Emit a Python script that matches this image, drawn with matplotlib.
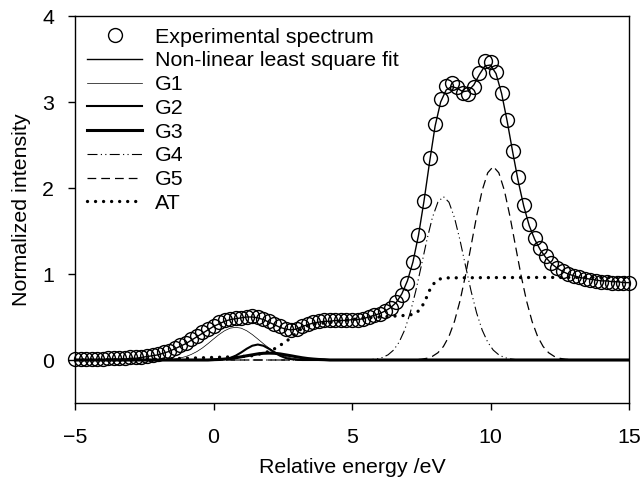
import matplotlib
matplotlib.use("Agg")
import matplotlib.pyplot as plt
import numpy as np

plt.rcParams['font.family'] = ['Liberation Sans', 'DejaVu Sans']

# Experimental spectrum (x grid -5..15 step 0.2)
exp_x = [round(-5 + 0.2 * i, 1) for i in range(101)]
exp_y = [0.01, 0.01, 0.01, 0.01, 0.01, 0.01, 0.02, 0.02, 0.02, 0.02,
         0.03, 0.03, 0.04, 0.05, 0.06, 0.07, 0.09, 0.11, 0.14, 0.17,
         0.20, 0.24, 0.28, 0.32, 0.36, 0.40, 0.44, 0.47, 0.48, 0.49,
         0.49, 0.50, 0.51, 0.50, 0.48, 0.45, 0.42, 0.39, 0.36, 0.35,
         0.36, 0.39, 0.42, 0.44, 0.45, 0.46, 0.46, 0.46, 0.46, 0.46,
         0.47, 0.47, 0.48, 0.50, 0.52, 0.54, 0.57, 0.61, 0.67, 0.76,
         0.90, 1.14, 1.45, 1.85, 2.35, 2.74, 3.03, 3.19, 3.22, 3.18,
         3.11, 3.09, 3.17, 3.34, 3.48, 3.47, 3.35, 3.10, 2.79, 2.43,
         2.13, 1.80, 1.58, 1.42, 1.30, 1.21, 1.13, 1.07, 1.03, 1.00,
         0.98, 0.96, 0.94, 0.93, 0.92, 0.91, 0.91, 0.90, 0.90, 0.89,
         0.89]

# Non-linear least square fit
fit_x = exp_x
fit_y = [0.00, 0.00, 0.00, 0.00, 0.00, 0.00, 0.01, 0.01, 0.01, 0.01,
         0.02, 0.02, 0.03, 0.04, 0.05, 0.06, 0.08, 0.10, 0.13, 0.16,
         0.19, 0.23, 0.27, 0.31, 0.35, 0.39, 0.42, 0.45, 0.47, 0.48,
         0.49, 0.50, 0.50, 0.49, 0.47, 0.44, 0.41, 0.38, 0.36, 0.35,
         0.36, 0.39, 0.41, 0.43, 0.44, 0.45, 0.45, 0.46, 0.46, 0.46,
         0.47, 0.47, 0.48, 0.50, 0.52, 0.54, 0.57, 0.61, 0.67, 0.77,
         0.92, 1.14, 1.45, 1.85, 2.30, 2.72, 3.00, 3.14, 3.18, 3.16,
         3.12, 3.13, 3.20, 3.32, 3.42, 3.43, 3.33, 3.10, 2.78, 2.42,
         2.08, 1.79, 1.56, 1.40, 1.28, 1.19, 1.12, 1.07, 1.03, 1.00,
         0.98, 0.96, 0.95, 0.94, 0.93, 0.92, 0.92, 0.91, 0.91, 0.90,
         0.90]

# Gaussian components
g1_x = [-5.0] + [round(0.8 + 0.2 * k, 1) for k in range(-14, 15)] + [15.0]
g1_y = [0.0, 0.0, 0.004, 0.007, 0.013, 0.024, 0.040, 0.065, 0.098, 0.140, 0.190,
        0.244, 0.296, 0.340, 0.370, 0.380, 0.370, 0.340, 0.296, 0.244,
        0.190, 0.140, 0.098, 0.065, 0.040, 0.024, 0.013, 0.007, 0.004, 0.0, 0.0]

g2_x = [-5.0] + [round(1.6 + 0.2 * k, 1) for k in range(-8, 9)] + [15.0]
g2_y = [0.0, 0.0, 0.004, 0.010, 0.024, 0.050, 0.088, 0.131, 0.166, 0.180,
        0.166, 0.131, 0.088, 0.050, 0.024, 0.010, 0.004, 0.0, 0.0]

g3_x = [-5.0] + [round(2.0 + 0.2 * k, 1) for k in range(-11, 12)] + [15.0]
g3_y = [0.0, 0.0, 0.004, 0.006, 0.011, 0.017, 0.026, 0.037, 0.049, 0.060, 0.071,
        0.078, 0.080, 0.078, 0.071, 0.060, 0.049, 0.037, 0.026, 0.017, 0.011,
        0.006, 0.004, 0.0, 0.0]

g4_x = [-5.0] + [round(8.3 + 0.2 * k, 1) for k in range(-14, 15)] + [15.0]
g4_y = [0.0, 0.0, 0.005, 0.013, 0.029, 0.060, 0.115, 0.207, 0.348, 0.546, 0.800,
        1.092, 1.391, 1.654, 1.835, 1.900, 1.835, 1.654, 1.391, 1.092, 0.800,
        0.546, 0.348, 0.207, 0.115, 0.060, 0.029, 0.013, 0.005, 0.0, 0.0]

g5_x = [-5.0] + [round(10.1 + 0.2 * k, 1) for k in range(-15, 16)] + [15.0]
g5_y = [0.0, 0.0, 0.004, 0.009, 0.020, 0.042, 0.084, 0.157, 0.274, 0.449, 0.689,
        0.989, 1.330, 1.674, 1.973, 2.177, 2.250, 2.177, 1.973, 1.674, 1.330,
        0.989, 0.689, 0.449, 0.274, 0.157, 0.084, 0.042, 0.020, 0.009, 0.004,
        0.0, 0.0]

# Arctangent step background
at_x = [-5.0, -2.0, -1.0, 0.0, 1.0, 1.4, 1.8, 2.0, 2.2, 2.4, 2.6, 2.8, 3.0,
        3.2, 3.4, 3.6, 4.0, 4.5, 5.0, 5.5, 6.0, 6.5, 7.0, 7.2, 7.4, 7.6,
        7.8, 8.0, 8.2, 8.4, 10.0, 12.0, 15.0]
at_y = [0.00, 0.01, 0.02, 0.03, 0.04, 0.05, 0.08, 0.10, 0.13, 0.17, 0.21,
        0.26, 0.32, 0.37, 0.40, 0.42, 0.43, 0.45, 0.47, 0.49, 0.50, 0.51,
        0.52, 0.53, 0.57, 0.66, 0.81, 0.91, 0.945, 0.955, 0.958, 0.96, 0.96]

fig = plt.figure(figsize=(6.4, 4.79), dpi=100)
ax = fig.add_axes([75 / 640, 1 - 403 / 479, 554 / 640, 387 / 479])

ax.plot(exp_x, exp_y, 'o', ms=10, mfc='none', mec='black', mew=1.0,
        label='Experimental spectrum', clip_on=False, zorder=5)
ax.plot(fit_x, fit_y, '-', color='black', lw=1.0, label='Non-linear least square fit')
ax.plot(g1_x, g1_y, '-', color='black', lw=0.5, label='G1')
ax.plot(g2_x, g2_y, '-', color='black', lw=1.5, label='G2')
ax.plot(g3_x, g3_y, '-', color='black', lw=2.2, label='G3')
ax.plot(g4_x, g4_y, color='black', lw=0.8, dashes=(9, 3, 1, 3, 1, 3), label='G4')
ax.plot(g5_x, g5_y, color='black', lw=0.9, dashes=(7, 4), label='G5')
ax.plot(at_x, at_y, color='black', lw=2.4, dashes=(0.01, 2.4),
        dash_capstyle='round', label='AT')

ax.set_xlim(-5, 15)
ax.set_ylim(-0.5, 4)
ax.set_xticks([-5, 0, 5, 10, 15])
ax.set_xticklabels(['\u22125', '0', '5', '10', '15'])
ax.set_yticks([0, 1, 2, 3, 4])
ax.tick_params(direction='out', length=5, width=1, labelsize=15.4)
ax.tick_params(axis='x', pad=13)
ax.tick_params(axis='y', pad=10)
for s in ax.spines.values():
    s.set_linewidth(1.0)

ax.set_xlabel('Relative energy /eV', fontsize=15.4, labelpad=8)
ax.set_ylabel('Normalized intensity', fontsize=15.4, labelpad=8)

leg = ax.legend(loc='upper left', frameon=False, fontsize=15.4,
                handlelength=2.6, handletextpad=0.6, labelspacing=0.22,
                borderaxespad=0.25, borderpad=0.3, numpoints=1)

fig.savefig('out.png', dpi=100)
